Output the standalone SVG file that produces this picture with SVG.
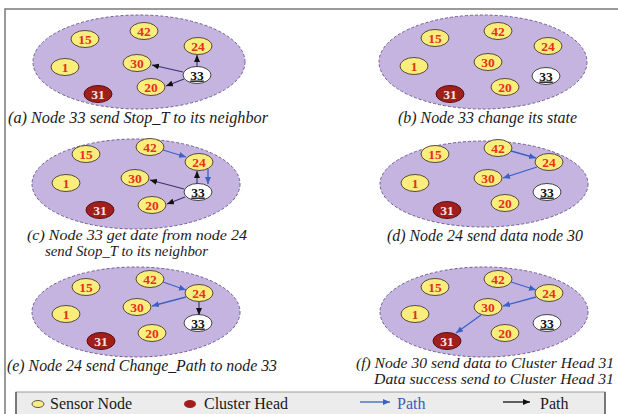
<svg xmlns="http://www.w3.org/2000/svg" width="618" height="414" viewBox="0 0 618 414">
<defs>
<style>
.field{fill:#c6b4e0;stroke:#6d5d92;stroke-width:1;stroke-dasharray:3 2}
.sn{fill:#f9ee7c;stroke:#5a4a3a;stroke-width:1}
.ch{fill:#a01f1c;stroke:#5a1010;stroke-width:1}
.st{fill:#ffffff;stroke:#444;stroke-width:1}
.nt{font-family:"Liberation Serif",serif;font-weight:bold;font-size:13.5px;fill:#e3321c;text-anchor:middle}
.ct{font-family:"Liberation Serif",serif;font-weight:bold;font-size:13.5px;fill:#f6e6e6;text-anchor:middle}
.wt{font-family:"Liberation Serif",serif;font-weight:bold;font-size:13.5px;fill:#111;text-anchor:middle;text-decoration:underline}
.cap{font-family:"Liberation Serif",serif;font-style:italic;font-size:17px;fill:#1a1a1a}
.cap2{font-family:"Liberation Serif",serif;font-style:italic;font-size:15.5px;fill:#1a1a1a}
.leg{font-family:"Liberation Serif",serif;font-size:16px;fill:#1a1a1a}
.blue{stroke:#3a62c4;stroke-width:1.3;fill:none;marker-end:url(#ab)}
.blk{stroke:#3b2d72;stroke-width:1.1;fill:none;marker-end:url(#ak)}
</style>
<marker id="ab" markerUnits="userSpaceOnUse" markerWidth="8" markerHeight="6" refX="7" refY="3" orient="auto"><path d="M0,0 L7,3 L0,6 Z" fill="#3a62c4"/></marker>
<marker id="ak" markerUnits="userSpaceOnUse" markerWidth="8" markerHeight="6" refX="7" refY="3" orient="auto"><path d="M0,0 L7,3 L0,6 Z" fill="#111"/></marker>
<ellipse id="n" rx="14" ry="8.5"/>
</defs>
<rect width="618" height="414" fill="#ffffff"/>
<path d="M5,414 V9 H618" fill="none" stroke="#7a7a7a" stroke-width="1.5"/>

<!-- Panel a -->
<g id="panel-a">
<ellipse class="field" cx="139" cy="62" rx="106" ry="47"/>
<g id="a-n15"><use href="#n" x="85" y="39" class="sn"/><text class="nt" x="85" y="43.5">15</text></g>
<g id="a-n42"><use href="#n" x="144" y="31" class="sn"/><text class="nt" x="144" y="35.5">42</text></g>
<g id="a-n24"><use href="#n" x="198" y="46" class="sn"/><text class="nt" x="198" y="50.5">24</text></g>
<g id="a-n1"><use href="#n" x="65" y="67" class="sn"/><text class="nt" x="65" y="71.5">1</text></g>
<g id="a-n30"><use href="#n" x="137" y="63" class="sn"/><text class="nt" x="137" y="67.5">30</text></g>
<g id="a-n33"><use href="#n" x="197" y="75" class="st"/><text class="wt" x="197" y="79.5">33</text></g>
<g id="a-n20"><use href="#n" x="151" y="87" class="sn"/><text class="nt" x="151" y="91.5">20</text></g>
<g id="a-n31"><use href="#n" x="98" y="94" class="ch"/><text class="ct" x="98" y="98.5">31</text></g>
<text class="cap" x="8" y="123" textLength="260" lengthAdjust="spacingAndGlyphs">(a) Node 33 send Stop_T to its neighbor</text>
</g>

<!-- Panel b -->
<g id="panel-b">
<ellipse class="field" cx="483" cy="62" rx="104" ry="47"/>
<g id="b-n15"><use href="#n" x="435" y="38" class="sn"/><text class="nt" x="435" y="42.5">15</text></g>
<g id="b-n42"><use href="#n" x="498" y="31" class="sn"/><text class="nt" x="498" y="35.5">42</text></g>
<g id="b-n24"><use href="#n" x="548" y="46" class="sn"/><text class="nt" x="548" y="50.5">24</text></g>
<g id="b-n1"><use href="#n" x="414" y="66" class="sn"/><text class="nt" x="414" y="70.5">1</text></g>
<g id="b-n30"><use href="#n" x="488" y="62" class="sn"/><text class="nt" x="488" y="66.5">30</text></g>
<g id="b-n33"><use href="#n" x="546" y="76" class="st"/><text class="wt" x="546" y="80.5">33</text></g>
<g id="b-n20"><use href="#n" x="505" y="87" class="sn"/><text class="nt" x="505" y="91.5">20</text></g>
<g id="b-n31"><use href="#n" x="450" y="94" class="ch"/><text class="ct" x="450" y="98.5">31</text></g>
<text class="cap" x="398" y="123" textLength="179" lengthAdjust="spacingAndGlyphs">(b) Node 33 change its state</text>
</g>

<!-- Panel c -->
<g id="panel-c">
<ellipse class="field" cx="136" cy="184" rx="104" ry="45"/>
<g id="c-n42"><use href="#n" x="150" y="147" class="sn"/><text class="nt" x="150" y="151.5">42</text></g>
<g id="c-n15"><use href="#n" x="86" y="154" class="sn"/><text class="nt" x="86" y="158.5">15</text></g>
<g id="c-n24"><use href="#n" x="199" y="162" class="sn"/><text class="nt" x="199" y="166.5">24</text></g>
<g id="c-n30"><use href="#n" x="135" y="178" class="sn"/><text class="nt" x="135" y="182.5">30</text></g>
<g id="c-n1"><use href="#n" x="66" y="183" class="sn"/><text class="nt" x="66" y="187.5">1</text></g>
<g id="c-n33"><use href="#n" x="198" y="192" class="st"/><text class="wt" x="198" y="196.5">33</text></g>
<g id="c-n20"><use href="#n" x="152" y="205" class="sn"/><text class="nt" x="152" y="209.5">20</text></g>
<g id="c-n31"><use href="#n" x="100" y="210" class="ch"/><text class="ct" x="100" y="214.5">31</text></g>
<text class="cap2" x="27" y="240" textLength="220" lengthAdjust="spacingAndGlyphs">(c) Node 33 get date from node 24</text>
<text class="cap2" x="45" y="256" textLength="163" lengthAdjust="spacingAndGlyphs">send Stop_T to its neighbor</text>
</g>

<!-- Panel d -->
<g id="panel-d">
<ellipse class="field" cx="484" cy="184" rx="104" ry="43"/>
<g id="d-n42"><use href="#n" x="498" y="148" class="sn"/><text class="nt" x="498" y="152.5">42</text></g>
<g id="d-n15"><use href="#n" x="435" y="154" class="sn"/><text class="nt" x="435" y="158.5">15</text></g>
<g id="d-n24"><use href="#n" x="549" y="162" class="sn"/><text class="nt" x="549" y="166.5">24</text></g>
<g id="d-n30"><use href="#n" x="488" y="178" class="sn"/><text class="nt" x="488" y="182.5">30</text></g>
<g id="d-n1"><use href="#n" x="415" y="183" class="sn"/><text class="nt" x="415" y="187.5">1</text></g>
<g id="d-n33"><use href="#n" x="547" y="192" class="st"/><text class="wt" x="547" y="196.5">33</text></g>
<g id="d-n20"><use href="#n" x="505" y="203" class="sn"/><text class="nt" x="505" y="207.5">20</text></g>
<g id="d-n31"><use href="#n" x="447" y="210" class="ch"/><text class="ct" x="447" y="214.5">31</text></g>
<text class="cap" x="387" y="241" textLength="196" lengthAdjust="spacingAndGlyphs">(d) Node 24 send data node 30</text>
</g>

<!-- Panel e -->
<g id="panel-e">
<ellipse class="field" cx="136" cy="312" rx="104" ry="45"/>
<g id="e-n42"><use href="#n" x="150" y="279" class="sn"/><text class="nt" x="150" y="283.5">42</text></g>
<g id="e-n15"><use href="#n" x="86" y="287" class="sn"/><text class="nt" x="86" y="291.5">15</text></g>
<g id="e-n24"><use href="#n" x="199" y="293" class="sn"/><text class="nt" x="199" y="297.5">24</text></g>
<g id="e-n30"><use href="#n" x="137" y="307" class="sn"/><text class="nt" x="137" y="311.5">30</text></g>
<g id="e-n1"><use href="#n" x="66" y="314" class="sn"/><text class="nt" x="66" y="318.5">1</text></g>
<g id="e-n33"><use href="#n" x="198" y="323" class="st"/><text class="wt" x="198" y="327.5">33</text></g>
<g id="e-n20"><use href="#n" x="152" y="333" class="sn"/><text class="nt" x="152" y="337.5">20</text></g>
<g id="e-n31"><use href="#n" x="101" y="341" class="ch"/><text class="ct" x="101" y="345.5">31</text></g>
<text class="cap" x="7" y="371" textLength="270" lengthAdjust="spacingAndGlyphs">(e) Node 24 send Change_Path to node 33</text>
</g>

<!-- Panel f -->
<g id="panel-f">
<ellipse class="field" cx="484" cy="312" rx="104" ry="45"/>
<g id="f-n42"><use href="#n" x="498" y="279" class="sn"/><text class="nt" x="498" y="283.5">42</text></g>
<g id="f-n15"><use href="#n" x="435" y="287" class="sn"/><text class="nt" x="435" y="291.5">15</text></g>
<g id="f-n24"><use href="#n" x="549" y="293" class="sn"/><text class="nt" x="549" y="297.5">24</text></g>
<g id="f-n30"><use href="#n" x="488" y="307" class="sn"/><text class="nt" x="488" y="311.5">30</text></g>
<g id="f-n1"><use href="#n" x="415" y="314" class="sn"/><text class="nt" x="415" y="318.5">1</text></g>
<g id="f-n33"><use href="#n" x="547" y="323" class="st"/><text class="wt" x="547" y="327.5">33</text></g>
<g id="f-n20"><use href="#n" x="505" y="333" class="sn"/><text class="nt" x="505" y="337.5">20</text></g>
<g id="f-n31"><use href="#n" x="447" y="341" class="ch"/><text class="ct" x="447" y="345.5">31</text></g>
<text class="cap2" x="356" y="368" textLength="258" lengthAdjust="spacingAndGlyphs">(f) Node 30 send data to Cluster Head 31</text>
<text class="cap2" x="374" y="384" textLength="240" lengthAdjust="spacingAndGlyphs">Data success send to Cluster Head 31</text>
</g>

<!-- Connectors -->
<g id="connectors">
<line class="blk" x1="197" y1="66" x2="197" y2="55"/>
<line class="blk" x1="183" y1="72" x2="152" y2="65"/>
<line class="blk" x1="184" y1="79" x2="166" y2="86"/>

<line class="blue" x1="163" y1="150" x2="186" y2="157"/>
<line class="blue" x1="208" y1="169" x2="208" y2="184"/>
<line class="blk" x1="197" y1="184" x2="197" y2="171"/>
<line class="blk" x1="184" y1="189" x2="150" y2="180"/>
<line class="blk" x1="185" y1="197" x2="167" y2="204"/>

<line class="blue" x1="511" y1="151" x2="536" y2="158"/>
<line class="blue" x1="537" y1="167" x2="503" y2="178"/>

<line class="blue" x1="163" y1="282" x2="186" y2="290"/>
<line class="blue" x1="186" y1="297" x2="152" y2="306"/>
<line class="blk" x1="199" y1="302" x2="199" y2="315"/>

<line class="blue" x1="511" y1="282" x2="536" y2="290"/>
<line class="blue" x1="536" y1="297" x2="503" y2="306"/>
<line class="blue" x1="481" y1="315" x2="456" y2="333"/>
</g>

<!-- Legend -->
<g id="legend">
<rect x="16" y="392" width="589" height="26" fill="#ececec" stroke="#9a9a9a" stroke-width="1"/>
<line x1="16" y1="392" x2="16" y2="414" stroke="#444" stroke-width="1.2"/>
<line x1="605" y1="392" x2="605" y2="414" stroke="#444" stroke-width="1.2"/>
<ellipse cx="38" cy="404" rx="6" ry="3.5" fill="#f9ee7c" stroke="#555" stroke-width="1"/>
<text class="leg" x="50" y="409">Sensor Node</text>
<ellipse cx="190" cy="404" rx="6" ry="4" fill="#a01f1c"/>
<text class="leg" x="204" y="409">Cluster Head</text>
<line class="blue" x1="360" y1="402" x2="390" y2="402"/>
<text class="leg" x="397" y="409" style="fill:#3a5cb8">Path</text>
<line x1="503" y1="402" x2="530" y2="402" stroke="#111" stroke-width="1.3" marker-end="url(#ak)"/>
<text class="leg" x="540" y="409">Path</text>
</g>
</svg>
